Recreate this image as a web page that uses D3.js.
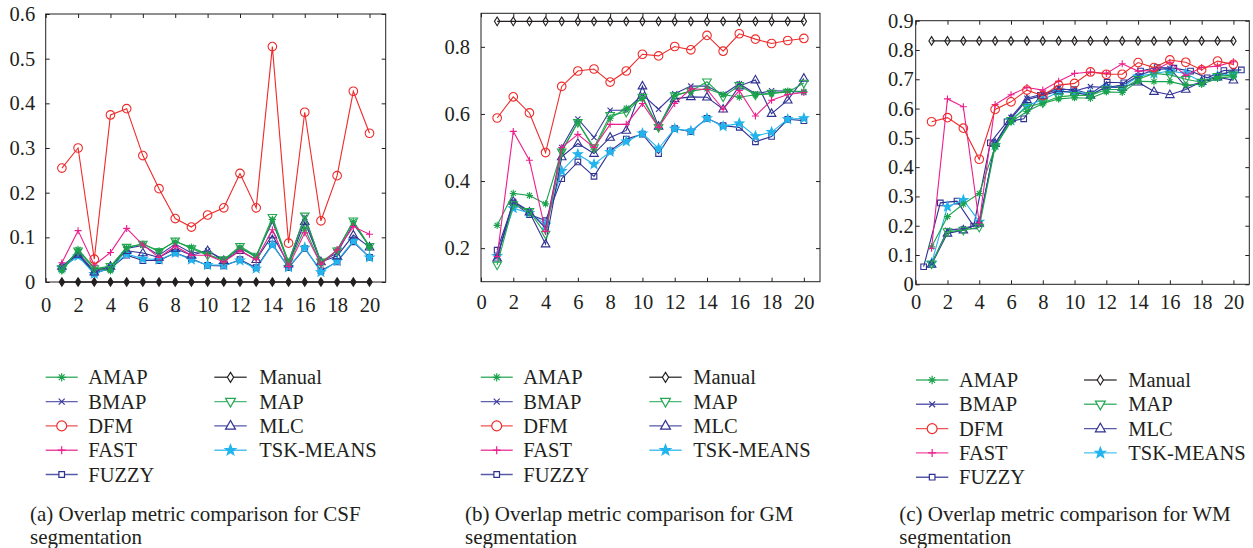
<!DOCTYPE html>
<html>
<head>
<meta charset="utf-8">
<script src="https://cdn.jsdelivr.net/npm/d3@7"></script>
<style>
  body { margin: 0; background: #fff; }
  text { font-family: "Liberation Serif", "Times New Roman", serif; fill: #231f20; }
</style>
</head>
<body>
<svg id="chart" width="1253" height="548"></svg>
<script>
// ---- data ----
const runs = [1, 2, 3, 4, 5, 6, 7, 8, 9, 10, 11, 12, 13, 14, 15, 16, 17, 18, 19, 20];
// FUZZY in the WM panel is plotted slightly shifted
const fuzzyRunsWM = [0.5, 1.55, 2.6, 3.65, 4.7, 5.75, 6.8, 7.85, 8.9, 9.95, 11.0, 12.05, 13.1, 14.15, 15.2, 16.25, 17.3, 18.35, 19.4, 20.5];

const methodsCol1 = ["AMAP", "BMAP", "DFM", "FAST", "FUZZY"];
const methodsCol2 = ["Manual", "MAP", "MLC", "TSK-MEANS"];
const xTicks = [0, 2, 4, 6, 8, 10, 12, 14, 16, 18, 20];
const yTicksCSF = [0, 0.1, 0.2, 0.3, 0.4, 0.5, 0.6];
const yTicksGM = [0.2, 0.4, 0.6, 0.8];
const yTicksWM = [0, 0.1, 0.2, 0.3, 0.4, 0.5, 0.6, 0.7, 0.8, 0.9];
const captionsCSF = ["(a) Overlap metric comparison for CSF", "segmentation"];
const captionsGM = ["(b) Overlap metric comparison for GM", "segmentation"];
const captionsWM = ["(c) Overlap metric comparison for WM", "segmentation"];

// CSF
const csfAMAP   = [0.025, 0.073, 0.032, 0.025, 0.077, 0.085, 0.070, 0.090, 0.078, 0.062, 0.048, 0.078, 0.055, 0.140, 0.040, 0.120, 0.040, 0.072, 0.135, 0.078];
const csfBMAP   = [0.035, 0.065, 0.025, 0.035, 0.075, 0.082, 0.060, 0.085, 0.065, 0.070, 0.050, 0.075, 0.058, 0.135, 0.045, 0.145, 0.045, 0.065, 0.130, 0.080];
const csfDFM    = [0.255, 0.300, 0.051, 0.374, 0.388, 0.283, 0.209, 0.142, 0.123, 0.150, 0.166, 0.243, 0.166, 0.527, 0.087, 0.380, 0.137, 0.238, 0.427, 0.333];
const csfFAST   = [0.043, 0.115, 0.038, 0.066, 0.120, 0.083, 0.055, 0.080, 0.060, 0.060, 0.045, 0.070, 0.050, 0.117, 0.035, 0.110, 0.040, 0.072, 0.124, 0.107];
const csfFUZZY  = [0.030, 0.060, 0.020, 0.030, 0.060, 0.048, 0.048, 0.065, 0.052, 0.037, 0.036, 0.050, 0.032, 0.085, 0.032, 0.075, 0.025, 0.045, 0.090, 0.055];
const csfManual = [0, 0, 0, 0, 0, 0, 0, 0, 0, 0, 0, 0, 0, 0, 0, 0, 0, 0, 0, 0];
const csfMAP    = [0.030, 0.070, 0.030, 0.035, 0.078, 0.085, 0.068, 0.092, 0.075, 0.060, 0.050, 0.080, 0.058, 0.145, 0.045, 0.148, 0.045, 0.070, 0.137, 0.080];
const csfMLC    = [0.035, 0.062, 0.022, 0.035, 0.070, 0.065, 0.055, 0.075, 0.060, 0.070, 0.048, 0.070, 0.050, 0.105, 0.040, 0.135, 0.045, 0.058, 0.105, 0.078];
const csfTSK    = [0.032, 0.058, 0.018, 0.032, 0.063, 0.052, 0.050, 0.065, 0.050, 0.038, 0.038, 0.048, 0.030, 0.083, 0.033, 0.077, 0.022, 0.047, 0.092, 0.055];

// GM
const gmAMAP   = [0.268, 0.363, 0.357, 0.332, 0.490, 0.575, 0.495, 0.587, 0.617, 0.646, 0.560, 0.655, 0.668, 0.675, 0.658, 0.650, 0.657, 0.660, 0.668, 0.667];
const gmBMAP   = [0.175, 0.340, 0.310, 0.260, 0.500, 0.585, 0.530, 0.611, 0.611, 0.658, 0.614, 0.660, 0.683, 0.683, 0.658, 0.690, 0.660, 0.669, 0.668, 0.664];
const gmDFM    = [0.588, 0.651, 0.603, 0.485, 0.682, 0.728, 0.734, 0.695, 0.728, 0.778, 0.773, 0.801, 0.791, 0.834, 0.787, 0.839, 0.823, 0.810, 0.819, 0.825];
const gmFAST   = [0.175, 0.548, 0.462, 0.250, 0.500, 0.539, 0.500, 0.569, 0.569, 0.631, 0.560, 0.631, 0.675, 0.673, 0.614, 0.670, 0.594, 0.641, 0.658, 0.664];
const gmFUZZY  = [0.194, 0.335, 0.300, 0.282, 0.407, 0.457, 0.414, 0.490, 0.525, 0.540, 0.482, 0.556, 0.547, 0.587, 0.565, 0.560, 0.517, 0.533, 0.584, 0.580];
const gmManual = [0.876, 0.876, 0.876, 0.876, 0.876, 0.876, 0.876, 0.876, 0.876, 0.876, 0.876, 0.876, 0.876, 0.876, 0.876, 0.876, 0.876, 0.876, 0.876, 0.876];
const gmMAP    = [0.150, 0.330, 0.310, 0.242, 0.487, 0.575, 0.500, 0.596, 0.605, 0.650, 0.560, 0.655, 0.668, 0.696, 0.651, 0.685, 0.657, 0.662, 0.665, 0.692];
const gmMLC    = [0.170, 0.339, 0.307, 0.212, 0.472, 0.512, 0.482, 0.530, 0.551, 0.683, 0.563, 0.645, 0.651, 0.650, 0.614, 0.683, 0.701, 0.601, 0.641, 0.706];
const gmTSK    = [0.177, 0.319, 0.305, 0.270, 0.430, 0.480, 0.450, 0.487, 0.518, 0.542, 0.497, 0.556, 0.549, 0.587, 0.563, 0.572, 0.534, 0.546, 0.584, 0.587];

// WM
const wmAMAP   = [0.128, 0.231, 0.274, 0.310, 0.470, 0.555, 0.590, 0.617, 0.633, 0.637, 0.635, 0.657, 0.655, 0.693, 0.692, 0.692, 0.680, 0.683, 0.703, 0.710];
const wmBMAP   = [0.070, 0.185, 0.190, 0.205, 0.480, 0.570, 0.635, 0.650, 0.670, 0.660, 0.675, 0.672, 0.680, 0.712, 0.732, 0.737, 0.675, 0.690, 0.712, 0.730];
const wmDFM    = [0.555, 0.569, 0.533, 0.427, 0.597, 0.623, 0.663, 0.644, 0.680, 0.686, 0.725, 0.717, 0.717, 0.757, 0.740, 0.766, 0.758, 0.732, 0.762, 0.751];
const wmFAST   = [0.123, 0.633, 0.606, 0.210, 0.614, 0.647, 0.672, 0.663, 0.693, 0.720, 0.725, 0.720, 0.753, 0.728, 0.730, 0.758, 0.713, 0.740, 0.745, 0.760];
const wmFUZZY  = [0.060, 0.278, 0.284, 0.199, 0.483, 0.555, 0.565, 0.645, 0.665, 0.665, 0.650, 0.690, 0.688, 0.728, 0.740, 0.738, 0.728, 0.705, 0.730, 0.732];
const wmManual = [0.831, 0.831, 0.831, 0.831, 0.831, 0.831, 0.831, 0.831, 0.831, 0.831, 0.831, 0.831, 0.831, 0.831, 0.831, 0.831, 0.831, 0.831, 0.831, 0.831];
const wmMAP    = [0.070, 0.180, 0.185, 0.195, 0.470, 0.560, 0.605, 0.620, 0.640, 0.645, 0.645, 0.665, 0.665, 0.700, 0.720, 0.715, 0.700, 0.690, 0.710, 0.715];
const wmMLC    = [0.068, 0.174, 0.185, 0.208, 0.480, 0.565, 0.630, 0.645, 0.660, 0.655, 0.645, 0.675, 0.672, 0.690, 0.658, 0.647, 0.665, 0.692, 0.707, 0.697];
const wmTSK    = [0.072, 0.265, 0.288, 0.214, 0.475, 0.560, 0.610, 0.630, 0.657, 0.657, 0.650, 0.672, 0.672, 0.710, 0.720, 0.728, 0.720, 0.692, 0.712, 0.720];

// ---- styles per method ----
const styles = {
  "AMAP":      { color: "#1ba24c", marker: "asterisk" },
  "BMAP":      { color: "#3a3a9e", marker: "x" },
  "DFM":       { color: "#ee2b2b", marker: "circle" },
  "FAST":      { color: "#ec1e8c", marker: "plus" },
  "FUZZY":     { color: "#2e3192", marker: "square" },
  "Manual":    { color: "#231f20", marker: "diamond" },
  "MAP":       { color: "#22a84f", marker: "triDown" },
  "MLC":       { color: "#2e3192", marker: "triUp" },
  "TSK-MEANS": { color: "#22b4ec", marker: "star" }
};

function markerPath(kind, s) {
  switch (kind) {
    case "circle":
      return `M${s},0A${s},${s},0,1,1,${-s},0A${s},${s},0,1,1,${s},0Z`;
    case "square":
      return `M${-s},${-s}H${s}V${s}H${-s}Z`;
    case "diamond":
      return `M0,${-s * 1.6}L${s},0L0,${s * 1.6}L${-s},0Z`;
    case "triUp":
      return `M${-s},${s * 0.65}L${s},${s * 0.65}L0,${-s * 1.1}Z`;
    case "triDown":
      return `M${-s},${-s * 0.65}L${s},${-s * 0.65}L0,${s * 1.1}Z`;
    case "plus":
      return `M${-s},0H${s}M0,${-s}V${s}`;
    case "x":
      return `M${-s},${-s}L${s},${s}M${-s},${s}L${s},${-s}`;
    case "asterisk": {
      const a = s * 0.7;
      return `M${-s},0H${s}M0,${-s}V${s}M${-a},${-a}L${a},${a}M${-a},${a}L${a},${-a}`;
    }
    case "star": {
      let d = "";
      for (let i = 0; i < 10; i++) {
        const r = i % 2 === 0 ? s : s * 0.42;
        const ang = -Math.PI / 2 + i * Math.PI / 5;
        d += (i === 0 ? "M" : "L") + (r * Math.cos(ang)).toFixed(2) + "," + (r * Math.sin(ang)).toFixed(2);
      }
      return d + "Z";
    }
  }
}

const markerSize = { circle: 4.3, square: 2.8, diamond: 2.7, triUp: 4.3, triDown: 4.3, plus: 3.5, x: 2.6, asterisk: 3.6, star: 4.8 };

const svg = d3.select("#chart");

const panels = [
  { left: 45.7, right: 385.7, top: 14, bottom: 282, yDomain: [0, 0.6], yTicks: yTicksCSF,
    xPad: 15, yPad: 10.5, manualFilled: true, caption: captionsCSF, capX: 30,
    legend: { c1: [45.7, 77.7, 88.3], c2: [214.3, 246.7, 259.3], y0: 377.3 },
    series: { "AMAP": csfAMAP, "BMAP": csfBMAP, "DFM": csfDFM, "FAST": csfFAST, "FUZZY": csfFUZZY,
              "Manual": csfManual, "MAP": csfMAP, "MLC": csfMLC, "TSK-MEANS": csfTSK } },
  { left: 481, right: 820, top: 13.3, bottom: 281.7, yDomain: [0.1, 0.9], yTicks: yTicksGM,
    xPad: 13, yPad: 11, manualFilled: false, caption: captionsGM, capX: 465,
    legend: { c1: [480.7, 512.7, 523.3], c2: [649.3, 681.7, 693.3], y0: 377.3 },
    series: { "AMAP": gmAMAP, "BMAP": gmBMAP, "DFM": gmDFM, "FAST": gmFAST, "FUZZY": gmFUZZY,
              "Manual": gmManual, "MAP": gmMAP, "MLC": gmMLC, "TSK-MEANS": gmTSK } },
  { left: 915.7, right: 1249.3, top: 20.7, bottom: 284.3, yDomain: [0, 0.9], yTicks: yTicksWM,
    xPad: 10.5, yPad: 2, manualFilled: false, caption: captionsWM, capX: 899.3,
    legend: { c1: [916, 948.3, 959], c2: [1084, 1116.7, 1128.3], y0: 380 },
    fuzzyX: fuzzyRunsWM,
    series: { "AMAP": wmAMAP, "BMAP": wmBMAP, "DFM": wmDFM, "FAST": wmFAST, "FUZZY": wmFUZZY,
              "Manual": wmManual, "MAP": wmMAP, "MLC": wmMLC, "TSK-MEANS": wmTSK } }
];

const drawOrder = ["Manual", "FUZZY", "TSK-MEANS", "MLC", "BMAP", "MAP", "AMAP", "FAST", "DFM"];

panels.forEach(p => {
  const x = d3.scaleLinear().domain([0, 21]).range([p.left, p.right]);
  const y = d3.scaleLinear().domain(p.yDomain).range([p.bottom, p.top]);
  const g = svg.append("g");

  // box
  g.append("rect")
    .attr("x", p.left).attr("y", p.top)
    .attr("width", p.right - p.left).attr("height", p.bottom - p.top)
    .attr("fill", "none").attr("stroke", "#231f20").attr("stroke-width", 1);

  // axes with inward ticks on all four sides
  const ax = [
    g.append("g").attr("transform", `translate(0,${p.bottom})`)
      .call(d3.axisBottom(x).tickValues(xTicks).tickSizeInner(-4).tickSizeOuter(0).tickPadding(p.xPad).tickFormat(d3.format("d"))),
    g.append("g").attr("transform", `translate(0,${p.top})`)
      .call(d3.axisTop(x).tickValues(xTicks).tickSizeInner(-4).tickSizeOuter(0).tickFormat("")),
    g.append("g").attr("transform", `translate(${p.left},0)`)
      .call(d3.axisLeft(y).tickValues(p.yTicks).tickSizeInner(-4).tickSizeOuter(0).tickPadding(p.yPad).tickFormat(d => d === 0 ? "0" : d3.format(".1f")(d))),
    g.append("g").attr("transform", `translate(${p.right},0)`)
      .call(d3.axisRight(y).tickValues(p.yTicks).tickSizeInner(-4).tickSizeOuter(0).tickFormat(""))
  ];
  ax.forEach(a => {
    a.select(".domain").remove();
    a.selectAll("line").attr("stroke", "#231f20");
    a.selectAll("text").attr("font-size", 20.5).attr("fill", "#231f20")
      .style("font-family", "'Liberation Serif', serif");
  });

  // series
  drawOrder.forEach(name => {
    const st = styles[name];
    const xs = (name === "FUZZY" && p.fuzzyX) ? p.fuzzyX : runs;
    const pts = p.series[name].map((v, i) => ({ x: xs[i], y: v }));
    const line = d3.line().x(d => x(d.x)).y(d => y(d.y));
    g.append("path").datum(pts)
      .attr("d", line).attr("fill", "none")
      .attr("stroke", st.color).attr("stroke-width", name === "Manual" ? 1.4 : 1.1);
    const filled = st.marker === "star" || (name === "Manual" && p.manualFilled);
    g.selectAll(null).data(pts).enter().append("path")
      .attr("transform", d => `translate(${x(d.x)},${y(d.y)})`)
      .attr("d", markerPath(st.marker, markerSize[st.marker]))
      .attr("fill", filled ? st.color : "none")
      .attr("stroke", st.color).attr("stroke-width", 1.1);
  });

  // legend
  const leg = g.append("g");
  const rowH = 24.3;
  [[methodsCol1, p.legend.c1], [methodsCol2, p.legend.c2]].forEach(([names, pos]) => {
    names.forEach((name, i) => {
      const st = styles[name];
      const yy = p.legend.y0 + i * rowH;
      leg.append("line").attr("x1", pos[0]).attr("x2", pos[1]).attr("y1", yy).attr("y2", yy)
        .attr("stroke", st.color).attr("stroke-width", 1.4).attr("opacity", 0.8);
      leg.append("path")
        .attr("transform", `translate(${(pos[0] + pos[1]) / 2},${yy})`)
        .attr("d", markerPath(st.marker, markerSize[st.marker] * (st.marker === "square" ? 1 : 1.15)))
        .attr("fill", st.marker === "star" ? st.color : (st.marker === "circle" || st.marker === "diamond" || st.marker.startsWith("tri") || st.marker === "square" ? "#fff" : "none"))
        .attr("stroke", st.color).attr("stroke-width", 1.2);
      leg.append("text").attr("x", pos[2]).attr("y", yy).attr("dy", "0.35em")
        .attr("font-size", 20.5).text(name);
    });
  });

  // caption
  p.caption.forEach((t, i) => {
    g.append("text").attr("x", p.capX).attr("y", 521 + i * 22.5)
      .attr("font-size", 21).text(t);
  });
});
</script>
</body>
</html>
